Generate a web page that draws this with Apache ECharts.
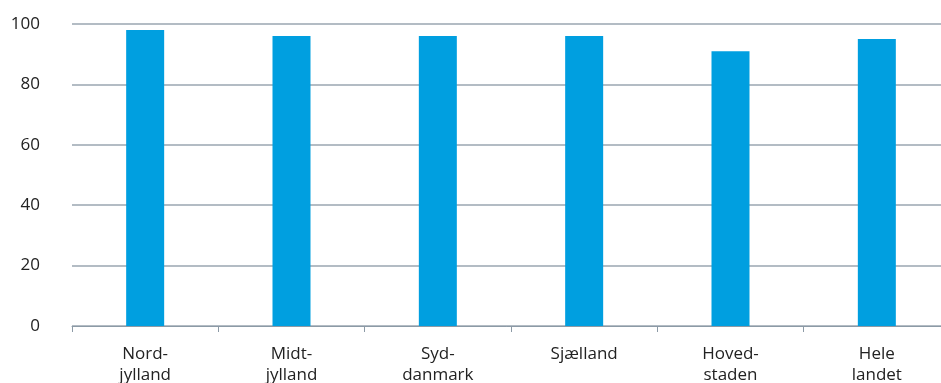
<!DOCTYPE html>
<html><head><meta charset="utf-8">
<script src="https://cdn.jsdelivr.net/npm/echarts@6/dist/echarts.min.js"></script>
<style>html,body{margin:0;padding:0;background:#fff}#c{width:941px;height:383px}</style>
</head><body><div id="c"></div>
<script>
const categories = ["Nord-\njylland", "Midt-\njylland", "Syd-\ndanmark", "Sjælland", "Hoved-\nstaden", "Hele\nlandet"];
const values = [98, 96, 96, 96, 91, 95];
const yTicks = [0, 20, 40, 60, 80, 100];

const chart = echarts.init(document.getElementById('c'));
chart.setOption({
  animation: false,
  grid: {left: 72, top: 24, width: 878, height: 302, containLabel: false, outerBoundsMode: 'none'},
  xAxis: {
    type: 'category', data: categories,
    axisLine: {lineStyle: {color: '#8c9aa6', width: 1}},
    axisTick: {show: true, length: 6, alignWithLabel: false, lineStyle: {color: '#8c9aa6'}},
    axisLabel: {color: '#222', fontSize: 17, fontFamily: 'Open Sans', lineHeight: 21, margin: 18, interval: 0}
  },
  yAxis: {
    type: 'value', min: yTicks[0], max: yTicks[yTicks.length-1], interval: 20,
    axisLine: {show: false}, axisTick: {show: false},
    axisLabel: {color: '#222', fontSize: 17, fontFamily: 'Open Sans', margin: 32},
    splitLine: {lineStyle: {color: '#9aa6b0', width: 1.5}}
  },
  series: [{
    type: 'bar', data: values, barWidth: 38,
    itemStyle: {color: '#009fe0'}
  }]
});
</script></body></html>
